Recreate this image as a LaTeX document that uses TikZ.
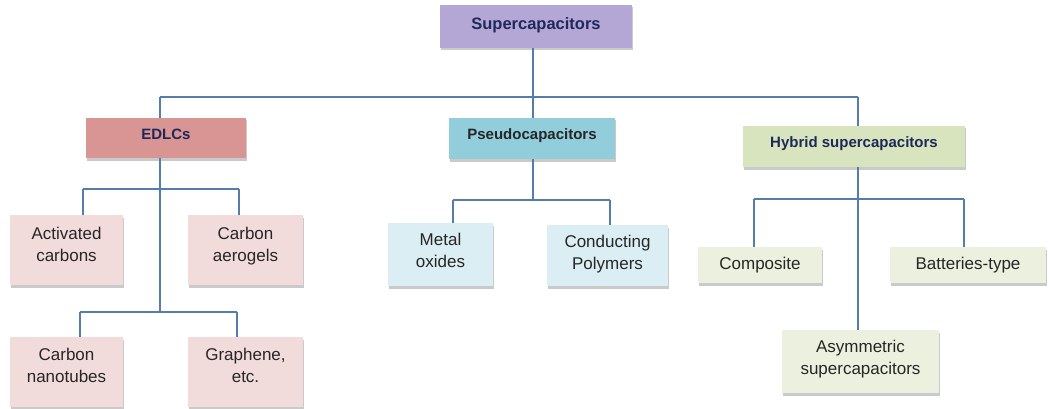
\documentclass[tikz,border=0pt]{standalone}
\usepackage{fontspec}
\setmainfont{Liberation Sans}
\usetikzlibrary{shadows}
\definecolor{linec}{RGB}{84,125,170}
\definecolor{navy}{RGB}{30,40,90}
\definecolor{txt}{RGB}{38,38,38}
\definecolor{supf}{RGB}{180,167,214}
\definecolor{edlf}{RGB}{217,149,148}
\definecolor{psef}{RGB}{146,205,220}
\definecolor{hybf}{RGB}{215,228,189}
\definecolor{pinkl}{RGB}{242,220,219}
\definecolor{bluel}{RGB}{219,238,244}
\definecolor{greenl}{RGB}{235,241,222}
\tikzset{
  box/.style={inner sep=2pt, align=center, drop shadow={shadow xshift=1pt, shadow yshift=-2.5pt, opacity=0.35, fill=black!60}},
  head/.style={box, font=\fontsize{15}{18}\selectfont\bfseries, text=navy, text depth=9pt},
  leaf/.style={box, font=\fontsize{17}{22}\selectfont, text=txt},
  conn/.style={draw=linec, line width=1.4pt}
}
\begin{document}
\begin{tikzpicture}[x=1pt,y=-1pt]
\useasboundingbox (0,0) rectangle (1049,409);
\node[head, fill=supf, minimum width=192pt, minimum height=43pt, font=\fontsize{16.5}{19}\selectfont\bfseries, text depth=6.5pt] (sup) at (536,26.5) {Supercapacitors};
\node[head, fill=edlf, minimum width=160pt, minimum height=40pt, text depth=8pt] (edlc) at (166,138) {EDLCs};
\node[head, fill=psef, minimum width=166pt, minimum height=41pt, text=black!85] (pseudo) at (532,138.5) {Pseudocapacitors};
\node[head, fill=hybf, minimum width=222pt, minimum height=41pt] (hybrid) at (854,146.5) {Hybrid supercapacitors};
\node[leaf, fill=pinkl, minimum width=113pt, minimum height=70pt, text depth=12pt] (ac) at (66.5,250) {Activated\\carbons};
\node[leaf, fill=pinkl, minimum width=115pt, minimum height=70pt, text depth=12pt] (ca) at (245.5,250) {Carbon\\aerogels};
\node[leaf, fill=pinkl, minimum width=113pt, minimum height=70pt, text depth=14pt] (cn) at (66.5,372) {Carbon\\nanotubes};
\node[leaf, fill=pinkl, minimum width=115pt, minimum height=70pt, text depth=14pt] (gr) at (245.5,372) {Graphene,\\etc.};
\node[leaf, fill=bluel, minimum width=105pt, minimum height=63pt, text depth=8pt] (mo) at (440.5,254.5) {Metal\\oxides};
\node[leaf, fill=bluel, minimum width=121pt, minimum height=61pt, text depth=6pt] (cp) at (607.5,255.5) {Conducting\\Polymers};
\node[leaf, fill=greenl, minimum width=124pt, minimum height=36pt] (comp) at (760,265) {Composite};
\node[leaf, fill=greenl, minimum width=156pt, minimum height=36pt] (batt) at (968,265) {Batteries-type};
\node[leaf, fill=greenl, minimum width=157pt, minimum height=63pt, text depth=8pt] (asym) at (860.5,361.5) {Asymmetric\\supercapacitors};
% top bus
\coordinate (busS) at (533,97);
\coordinate (busL) at (160,97);
\coordinate (busR) at (858,97);
\draw[conn] (busL) -- (busR);
\draw[conn] (sup.south -| busS) -- (busS);
\draw[conn] (busL) -- (busL |- edlc.north);
\draw[conn] (busS) -- (busS |- pseudo.north);
\draw[conn] (busR) -- (busR |- hybrid.north);
% EDLC subtree
\coordinate (e1) at (160,189);
\coordinate (e2) at (160,312);
\draw[conn] (edlc.south -| e1) -- (e2);
\draw[conn] (83,189) coordinate (e1l) -- (239,189) coordinate (e1r);
\draw[conn] (e1l) -- (e1l |- ac.north);
\draw[conn] (e1r) -- (e1r |- ca.north);
\draw[conn] (80,312) coordinate (e2l) -- (237,312) coordinate (e2r);
\draw[conn] (e2l) -- (e2l |- cn.north);
\draw[conn] (e2r) -- (e2r |- gr.north);
% Pseudo subtree
\coordinate (p1) at (533,200);
\draw[conn] (pseudo.south -| p1) -- (p1);
\draw[conn] (453,200) coordinate (p1l) -- (610,200) coordinate (p1r);
\draw[conn] (p1l) -- (p1l |- mo.north);
\draw[conn] (p1r) -- (p1r |- cp.north);
% Hybrid subtree
\coordinate (h1) at (858,199);
\draw[conn] (hybrid.south -| h1) -- (h1 |- asym.north);
\draw[conn] (754,199) coordinate (h1l) -- (964,199) coordinate (h1r);
\draw[conn] (h1l) -- (h1l |- comp.north);
\draw[conn] (h1r) -- (h1r |- batt.north);
\end{tikzpicture}
\end{document}
